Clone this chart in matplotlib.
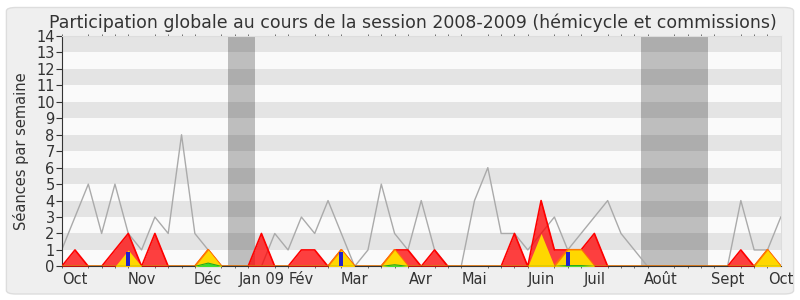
"""Participation globale 2008-2009: weekly sessions (hemicycle + commissions)."""
import matplotlib
matplotlib.use("Agg")
import matplotlib.pyplot as plt
from matplotlib.patches import FancyBboxPatch
import numpy as np

# weekly values, week 0 = start of October 2008
total = [1, 3, 5, 2, 5, 2, 1, 3, 2, 8, 2, 1, 0, 0, 0, 0, 2, 1, 3, 2,
         4, 2, 0, 1, 5, 2, 1, 4, 1, 0, 0, 4, 6, 2, 2, 1, 2, 3, 1, 2,
         3, 4, 2, 1, 0, 0, 0, 0, 0, 0, 0, 4, 1, 1, 3]
presence = [0, 1, 0, 0, 1, 2, 0, 2, 0, 0, 0, 1, 0, 0, 0, 2, 0, 0, 1, 1,
            0, 1, 0, 0, 0, 1, 1, 0, 1, 0, 0, 0, 0, 0, 2, 0, 4, 1, 1, 1,
            2, 0, 0, 0, 0, 0, 0, 0, 0, 0, 0, 1, 0, 1, 0]
hemicycle = [0, 0, 0, 0, 0, 1, 0, 0, 0, 0, 0, 1, 0, 0, 0, 0, 0, 0, 0, 0,
             0, 1, 0, 0, 0, 1, 0, 0, 0, 0, 0, 0, 0, 0, 0, 0, 2, 0, 1, 1,
             0, 0, 0, 0, 0, 0, 0, 0, 0, 0, 0, 0, 0, 1, 0]
interventions = [0, 0, 0, 0, 0, 0, 0, 0, 0, 0, 0, 1, 0, 0, 0, 0, 0, 0, 0, 0,
                 0, 1, 0, 0, 0, 1, 0, 0, 0, 0, 0, 0, 0, 0, 0, 0, 0, 0, 1, 1,
                 0, 0, 0, 0, 0, 0, 0, 0, 0, 0, 0, 0, 0, 1, 0]
questions = [0, 0, 0, 0, 0, 0, 0, 0, 0, 0, 0, 0.2, 0, 0, 0, 0, 0, 0, 0, 0,
             0, 0, 0, 0, 0, 0.1, 0, 0, 0, 0, 0, 0, 0, 0, 0, 0, 0, 0, 0.05, 0.05,
             0, 0, 0, 0, 0, 0, 0, 0, 0, 0, 0, 0, 0, 0, 0]
rapport_weeks = [5, 21, 38]
rapport_vals = [0.85, 0.85, 0.85]
vacances = [(12.5, 14.5), (43.5, 48.5)]
month_pos = [1, 6, 11, 15, 18, 22, 27, 31, 36, 40, 45, 50, 54]
month_labels = ["Oct", "Nov", "Déc", "Jan 09", "Fév", "Mar", "Avr", "Mai",
                "Juin", "Juil", "Août", "Sept", "Oct"]

weeks = np.arange(len(total))
txt = "#333333"

fig = plt.figure(figsize=(8, 3), dpi=100)
fig.patch.set_facecolor("white")
fig.patches.append(FancyBboxPatch((0.008, 0.02), 0.984, 0.955,
                                  boxstyle="round,pad=0,rounding_size=0.012",
                                  transform=fig.transFigure, facecolor="#efefef",
                                  edgecolor="#dddddd", linewidth=1, zorder=-10))
ax = fig.add_axes([0.0771, 0.112, 0.8989, 0.768])
ax.set_facecolor("#fafafa")

for a, b in vacances:
    ax.axvspan(a, b, color="#bebebe", lw=0, zorder=0)
for y in range(1, 14, 2):
    ax.axhspan(y, y + 1, color="black", alpha=0.085, lw=0, zorder=0.5)

ax.plot(weeks, total, color="#aaaaaa", lw=1, zorder=2)
ax.fill_between(weeks, presence, color="#ff0000", alpha=0.75, lw=0, zorder=3)
ax.plot(weeks, presence, color="#ff0000", lw=1.2, zorder=3)
ax.fill_between(weeks, interventions, color="#ff7700", lw=0, zorder=4)
ax.plot(weeks, interventions, color="#ff7700", lw=1.5, zorder=4)
ax.fill_between(weeks, hemicycle, color="#ffd700", lw=0, zorder=5)
ax.fill_between(weeks, questions, color="#33dd33", lw=0, zorder=6)
ax.plot(weeks, questions, color="#22aa22", lw=0.8, zorder=6)
ax.bar(rapport_weeks, rapport_vals, width=0.3, color="#2222cc", zorder=7)

ax.set_xlim(0, 54)
ax.set_ylim(0, 14)
ax.set_yticks(range(0, 15))
ax.set_xticks(month_pos)
ax.set_xticklabels(month_labels)
ax.set_xticks(weeks, minor=True)
ax.tick_params(axis="y", labelsize=10.5, colors=txt, length=4, pad=1)
ax.tick_params(axis="x", which="major", labelsize=10.5, colors=txt, length=0, pad=4)
ax.tick_params(axis="x", which="minor", length=4, color="#333333")
ax.tick_params(axis="x", which="minor", top=True, length=1.5, color="#555555")
for spine in ("top", "right"):
    ax.spines[spine].set_color("#dddddd")
ax.spines["left"].set_color("#333333")
ax.spines["bottom"].set_color("#333333")
ax.set_ylabel("Séances par semaine", fontsize=10.5, color=txt, labelpad=5)
ax.set_title("Participation globale au cours de la session 2008-2009 (hémicycle et commissions)",
             fontsize=12.5, color=txt, pad=6, x=0.4886)

fig.savefig("out.png", dpi=100)
